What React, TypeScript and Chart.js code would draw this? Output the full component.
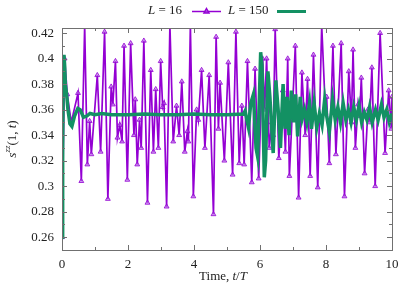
import React, { useEffect, useRef } from "react";
import { Chart, registerables } from "chart.js";

Chart.register(...registerables);

// L = 16 series (time, value)
const purpleT = [0, 0.08, 0.16, 0.28, 0.485, 0.586, 0.687, 0.768, 0.838, 0.889, 1.07, 1.17, 1.29, 1.39, 1.49, 1.54, 1.62, 1.68, 1.75, 1.82,
  1.88, 1.98, 2.08, 2.18, 2.22, 2.28, 2.35, 2.4, 2.48, 2.59, 2.69, 2.77, 2.84, 2.92, 2.99, 3.05, 3.09, 3.17, 3.27, 3.37, 3.47, 3.55, 3.63, 3.72, 3.8, 3.83, 3.89,
  3.98, 4.08, 4.13, 4.23, 4.33, 4.46, 4.59, 4.67, 4.74, 4.79, 4.92, 5.04, 5.17, 5.27, 5.37, 5.45, 5.52, 5.62, 5.75, 5.85,
  5.96, 6.08, 6.14, 6.2, 6.28, 6.36, 6.4, 6.46, 6.57, 6.69, 6.77, 6.84, 6.89, 7.07, 7.17, 7.27, 7.37, 7.44, 7.52, 7.62, 7.75, 7.87,
  7.98, 8.02, 8.1, 8.21, 8.3, 8.46, 8.56, 8.69, 8.77, 8.82, 8.89, 8.97, 9.02, 9.07, 9.17, 9.27, 9.32, 9.39, 9.49, 9.64, 9.79, 9.9, 9.98, 10];
const purpleV = [0.26, 0.4, 0.372, 0.35, 0.373, 0.304, 0.426, 0.317, 0.351, 0.325, 0.387, 0.327, 0.421, 0.29, 0.378, 0.364, 0.398, 0.338, 0.348, 0.335,
  0.41, 0.305, 0.412, 0.34, 0.368, 0.317, 0.352, 0.33, 0.414, 0.287, 0.391, 0.327, 0.376, 0.33, 0.398, 0.362, 0.365, 0.284, 0.426, 0.335, 0.363, 0.34, 0.382, 0.327, 0.343, 0.335, 0.426,
  0.292, 0.36, 0.352, 0.391, 0.33, 0.387, 0.278, 0.417, 0.345, 0.381, 0.32, 0.397, 0.309, 0.421, 0.318, 0.363, 0.317, 0.398, 0.303, 0.392,
  0.306, 0.4, 0.36, 0.4, 0.33, 0.35, 0.34, 0.423, 0.322, 0.375, 0.327, 0.4, 0.308, 0.41, 0.291, 0.389, 0.34, 0.384, 0.308, 0.403, 0.299, 0.426,
  0.36, 0.37, 0.318, 0.41, 0.325, 0.412, 0.292, 0.39, 0.35, 0.407, 0.33, 0.364, 0.355, 0.385, 0.31, 0.36, 0.35, 0.393, 0.3, 0.42, 0.326, 0.375, 0.345, 0.37];

// L = 150 series (time, value)
const greenT = [0, 0.02, 0.04, 0.06, 0.08, 0.1, 0.14, 0.18, 0.24, 0.3, 0.38, 0.48, 0.55, 0.65, 0.75, 0.85, 1.0, 1.2, 1.5, 2, 2.5, 3, 3.5, 4, 4.5, 5, 5.5,
  5.55, 5.6, 5.65, 5.72, 5.8, 5.88, 5.93, 6.02, 6.06, 6.13, 6.17, 6.24, 6.3, 6.34, 6.4, 6.48, 6.55, 6.62, 6.7, 6.76, 6.82, 6.88, 6.95, 7.02, 7.08, 7.14, 7.22, 7.28,
  7.35, 7.42, 7.5, 7.56, 7.64, 7.72, 7.8, 7.88, 7.96, 8.02, 8.1, 8.2, 8.28, 8.36, 8.44, 8.52, 8.6, 8.68, 8.76, 8.84, 8.92, 9.0, 9.08, 9.16, 9.24, 9.32, 9.4, 9.5,
  9.58, 9.68, 9.76, 9.84, 9.92, 10];
const greenV = [0.26, 0.33, 0.39, 0.403, 0.395, 0.38, 0.372, 0.36, 0.349, 0.347, 0.355, 0.361, 0.36, 0.354, 0.355, 0.357, 0.356, 0.357, 0.356, 0.356, 0.3565, 0.356, 0.356, 0.3565, 0.356, 0.356, 0.3565,
  0.359, 0.352, 0.346, 0.365, 0.372, 0.33, 0.323, 0.405, 0.395, 0.307, 0.32, 0.39, 0.37, 0.352, 0.326, 0.383, 0.36, 0.33, 0.38, 0.345, 0.37, 0.34, 0.375, 0.35, 0.372, 0.339, 0.37, 0.353,
  0.36, 0.35, 0.365, 0.345, 0.365, 0.346, 0.357, 0.348, 0.368, 0.355, 0.343, 0.368, 0.352, 0.362, 0.35, 0.365, 0.352, 0.36, 0.35, 0.362, 0.352, 0.363, 0.35, 0.358, 0.352, 0.362, 0.35, 0.36,
  0.352, 0.364, 0.354, 0.36, 0.35, 0.357];

const yTicks = [0.26, 0.28, 0.3, 0.32, 0.34, 0.36, 0.38, 0.4, 0.42];
const xTicks = [0, 2, 4, 6, 8, 10];

const PURPLE = "#9400d3";
const GREEN = "#139163";
const SERIF = "'Liberation Serif', 'DejaVu Serif', serif";

type Seg = { t: string; italic?: boolean; size?: number; dy?: number };

function segWidth(ctx: CanvasRenderingContext2D, s: Seg, base: number) {
  ctx.font = `${s.italic ? "italic " : ""}${s.size ?? base}px ${SERIF}`;
  return ctx.measureText(s.t).width;
}
function drawSegs(ctx: CanvasRenderingContext2D, segs: Seg[], x: number, y: number, base: number, align: "left" | "center") {
  let total = 0;
  for (const s of segs) total += segWidth(ctx, s, base);
  let cx = align === "center" ? x - total / 2 : x;
  ctx.textBaseline = "middle";
  ctx.textAlign = "left";
  for (const s of segs) {
    const w = segWidth(ctx, s, base);
    ctx.fillText(s.t, cx, y + (s.dy ?? 0));
    cx += w;
  }
  return cx;
}

const framePlugin = {
  id: "frame",
  afterDraw(chart: any) {
    const { ctx, chartArea: a, scales } = chart;
    const xs = scales.x, ys = scales.y;
    ctx.save();
    ctx.strokeStyle = "#707070";
    ctx.lineWidth = 1;
    ctx.strokeRect(Math.round(a.left) + 0.5, Math.round(a.top) + 0.5, Math.round(a.right - a.left), Math.round(a.bottom - a.top));
    ctx.beginPath();
    for (let v = 0; v <= 10; v += 1) {
      const px = Math.round(xs.getPixelForValue(v)) + 0.5;
      const len = v % 2 === 0 ? 5 : 3;
      ctx.moveTo(px, a.bottom); ctx.lineTo(px, a.bottom - len);
      ctx.moveTo(px, a.top); ctx.lineTo(px, a.top + len);
    }
    for (let i = 26; i <= 42; i += 1) {
      const v = i / 100;
      const py = Math.round(ys.getPixelForValue(v)) + 0.5;
      const len = i % 2 === 0 ? 5 : 3;
      ctx.moveTo(a.left, py); ctx.lineTo(a.left + len, py);
      ctx.moveTo(a.right, py); ctx.lineTo(a.right - len, py);
    }
    ctx.stroke();

    ctx.fillStyle = "#222";
    // x title
    drawSegs(ctx, [{ t: "Time, " }, { t: "t", italic: true }, { t: "/" }, { t: "T", italic: true }], (a.left + a.right) / 2 - 4, 277, 13, "center");
    // y title
    ctx.save();
    ctx.translate(13, (a.top + a.bottom) / 2);
    ctx.rotate(-Math.PI / 2);
    drawSegs(ctx, [{ t: "s", italic: true }, { t: "zz", italic: true, size: 9, dy: -5 }, { t: "(1, " }, { t: "t", italic: true }, { t: ")" }], 0, 0, 13, "center");
    ctx.restore();
    // legend
    const ly = 11;
    drawSegs(ctx, [{ t: "L", italic: true }, { t: " = 16" }], 148, ly, 13, "left");
    ctx.strokeStyle = PURPLE;
    ctx.lineWidth = 1.5;
    ctx.beginPath(); ctx.moveTo(192, ly + 0.5); ctx.lineTo(221, ly + 0.5); ctx.stroke();
    ctx.fillStyle = "rgba(170,80,225,0.7)";
    ctx.beginPath(); ctx.moveTo(206.5, ly - 2.5); ctx.lineTo(209, ly + 2); ctx.lineTo(204, ly + 2); ctx.closePath(); ctx.fill(); ctx.stroke();
    ctx.fillStyle = "#222";
    drawSegs(ctx, [{ t: "L", italic: true }, { t: " = 150" }], 228, ly, 13, "left");
    ctx.strokeStyle = GREEN;
    ctx.lineWidth = 3;
    ctx.beginPath(); ctx.moveTo(277, ly + 0.5); ctx.lineTo(306, ly + 0.5); ctx.stroke();
    ctx.restore();
  },
};

export default function App() {
  const ref = useRef<HTMLCanvasElement | null>(null);
  useEffect(() => {
    document.body.style.margin = "0";
    const canvas = ref.current!;
    const chart = new Chart(canvas, {
      type: "line",
      data: {
        datasets: [
          {
            label: "L = 16",
            data: purpleT.map((t, i) => ({ x: t, y: purpleV[i] })),
            borderColor: PURPLE,
            borderWidth: 1.7,
            pointStyle: "triangle",
            pointRadius: 2.8,
            pointBorderWidth: 1,
            pointBorderColor: "rgba(148,0,211,0.8)",
            pointBackgroundColor: "rgba(180,100,230,0.6)",
            tension: 0,
            order: 2,
          },
          {
            label: "L = 150",
            data: greenT.map((t, i) => ({ x: t, y: greenV[i] })),
            borderColor: GREEN,
            borderWidth: 3.5,
            pointRadius: 0,
            tension: 0,
            order: 1,
          },
        ],
      },
      options: {
        responsive: false,
        animation: false,
        devicePixelRatio: 1,
        layout: { padding: { top: 28, right: 23, left: 0, bottom: 0 } },
        plugins: { legend: { display: false }, tooltip: { enabled: false } },
        scales: {
          x: {
            type: "linear",
            min: 0,
            max: 10,
            grid: { display: false, drawTicks: false },
            border: { display: false },
            afterBuildTicks: (s: any) => { s.ticks = xTicks.map((v) => ({ value: v })); },
            afterFit: (s: any) => { s.height = 41; },
            ticks: { padding: 7, color: "#222", font: { family: SERIF, size: 13 }, maxRotation: 0, callback: (v: any) => String(v) },
          },
          y: {
            type: "linear",
            min: 0.25,
            max: 0.424,
            grid: { display: false, drawTicks: false },
            border: { display: false },
            afterBuildTicks: (s: any) => { s.ticks = yTicks.map((v) => ({ value: v })); },
            afterFit: (s: any) => { s.width = 62; },
            ticks: { padding: 8, color: "#222", font: { family: SERIF, size: 13 }, callback: (v: any) => String(Number(Number(v).toFixed(2))) },
          },
        },
      },
      plugins: [framePlugin],
    });
    return () => chart.destroy();
  }, []);
  return (
    <div style={{ position: "absolute", left: 0, top: 0, width: 415, height: 291, background: "#fff" }}>
      <canvas ref={ref} width={415} height={291} />
    </div>
  );
}
